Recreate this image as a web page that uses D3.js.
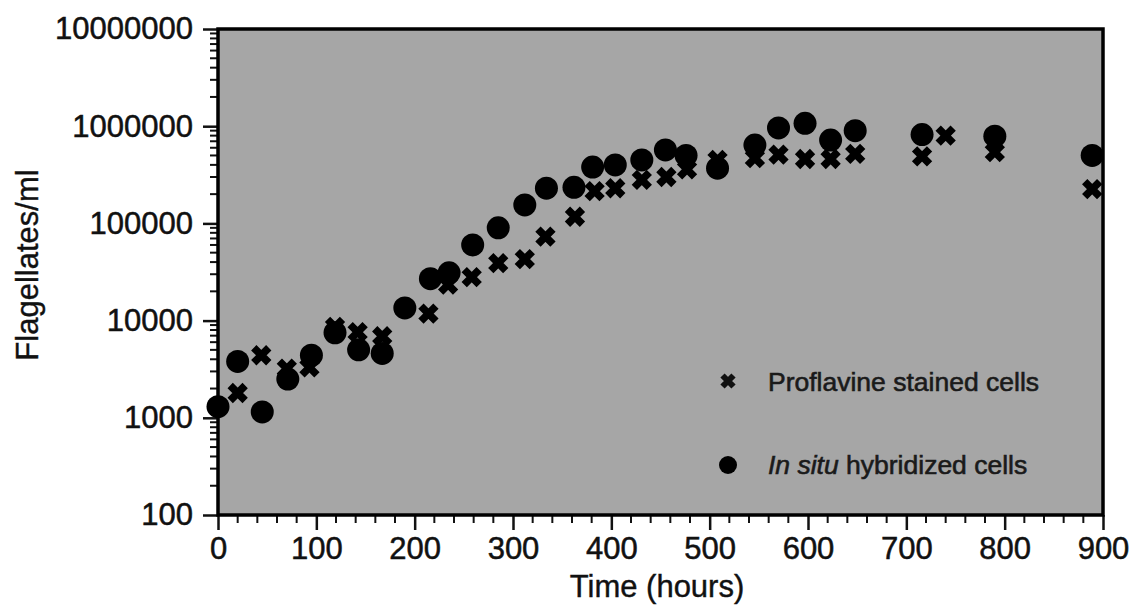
<!DOCTYPE html>
<html>
<head>
<meta charset="utf-8">
<script src="https://cdnjs.cloudflare.com/ajax/libs/d3/7.8.5/d3.min.js"></script>
<style>
	body { margin: 0; background: #fff; }
	text { font-family: 'Liberation Sans', Arial, Helvetica, sans-serif; }
</style>
</head>
<body>
<div id="chart_div"></div>
<script>
// values
var proflavine_hours = [20, 44, 70, 93, 119, 142, 167, 214, 234, 258, 285, 312, 333, 363, 383, 404, 431, 456, 477, 508, 546, 570, 597, 623, 648, 716, 740, 790, 889];
var proflavine_cells = [1800, 4400, 3200, 3300, 8600, 7600, 6900, 11800, 23500, 28000, 39000, 43000, 73000, 117000, 215000, 230000, 280000, 300000, 360000, 450000, 470000, 510000, 460000, 460000, 520000, 490000, 800000, 540000, 225000];

var insitu_hours = [0, 20, 45, 71, 95, 119, 143, 167, 190, 216, 235, 259, 285, 312, 334, 362, 381, 404, 431, 455, 476, 508, 546, 570, 597, 623, 648, 716, 790, 889];
var insitu_cells = [1300, 3800, 1150, 2500, 4400, 7500, 5000, 4600, 13500, 27000, 31000, 60000, 90000, 155000, 230000, 235000, 380000, 400000, 450000, 570000, 500000, 370000, 640000, 960000, 1070000, 720000, 900000, 820000, 790000, 500000];

var x_ticks = [0, 100, 200, 300, 400, 500, 600, 700, 800, 900];
var y_ticks = [100, 1000, 10000, 100000, 1000000, 10000000];

var width = 1131;
var height = 605;
var margin = { left: 218, right: 28, top: 29, bottom: 90 };

var svg = d3
	.select('#chart_div')
	.append('svg')
	.attr('width', width)
	.attr('height', height);

var x_scale = d3
	.scaleLinear()
	.domain([0, 900])
	.range([margin.left, width - margin.right]);
var y_scale = d3
	.scaleLog()
	.domain([100, 10000000])
	.range([height - margin.bottom, margin.top]);

var plot_w = x_scale(900) - x_scale(0);
var plot_h = y_scale(100) - y_scale(10000000);

// grey plot area
svg.append('rect')
	.attr('x', x_scale(0))
	.attr('y', y_scale(10000000))
	.attr('width', plot_w)
	.attr('height', plot_h)
	.attr('fill', '#a6a6a6');

// minor ticks
var minor_x = d3.range(0, 901, 20).filter((d) => d % 100 !== 0);
svg.append('g')
	.selectAll('line')
	.data(minor_x)
	.enter()
	.append('line')
	.attr('x1', (d) => x_scale(d))
	.attr('x2', (d) => x_scale(d))
	.attr('y1', y_scale(100))
	.attr('y2', y_scale(100) + 8)
	.attr('stroke', '#111')
	.attr('stroke-width', 2);

var minor_y = [];
for (var i = 0; i < y_ticks.length - 1; i++) {
	for (var k = 2; k < 10; k++) {
		minor_y.push(y_ticks[i] * k);
	}
}
svg.append('g')
	.selectAll('line')
	.data(minor_y)
	.enter()
	.append('line')
	.attr('x1', x_scale(0) - 8)
	.attr('x2', x_scale(0))
	.attr('y1', (d) => y_scale(d))
	.attr('y2', (d) => y_scale(d))
	.attr('stroke', '#111')
	.attr('stroke-width', 2);

// major ticks + labels
var style_labels = function (g) {
	g.selectAll('text')
		.attr('font-size', 31)
		.attr('fill', '#111')
		.attr('stroke', '#111')
		.attr('stroke-width', 0.5)
		.attr('font-family', "'Liberation Sans', Arial, sans-serif");
};

svg.append('g')
	.attr('transform', 'translate(0,' + y_scale(100) + ')')
	.call(d3.axisBottom(x_scale).tickValues(x_ticks).tickSize(15).tickPadding(7).tickSizeOuter(0))
	.call((g) => g.select('.domain').remove())
	.call((g) => g.selectAll('line').attr('stroke', '#111').attr('stroke-width', 2.5))
	.call(style_labels);

svg.append('g')
	.attr('transform', 'translate(' + x_scale(0) + ',0)')
	.call(d3.axisLeft(y_scale).tickValues(y_ticks).tickFormat(d3.format('d')).tickSize(15).tickPadding(10).tickSizeOuter(0))
	.call((g) => g.select('.domain').remove())
	.call((g) => g.selectAll('line').attr('stroke', '#111').attr('stroke-width', 2.5))
	.call(style_labels);

// frame
svg.append('rect')
	.attr('x', x_scale(0))
	.attr('y', y_scale(10000000))
	.attr('width', plot_w)
	.attr('height', plot_h)
	.attr('fill', 'none')
	.attr('stroke', '#000')
	.attr('stroke-width', 3.5);

// axis titles
svg.append('text')
	.attr('x', 657)
	.attr('y', 597)
	.attr('text-anchor', 'middle')
	.attr('font-size', 31)
	.attr('fill', '#111')
	.attr('stroke', '#111')
	.attr('stroke-width', 0.4)
	.text('Time (hours)');

svg.append('text')
	.attr('transform', 'translate(38,' + 265 + ') rotate(-90)')
	.attr('text-anchor', 'middle')
	.attr('font-size', 31)
	.attr('fill', '#111')
	.attr('stroke', '#111')
	.attr('stroke-width', 0.4)
	.text('Flagellates/ml');

// markers
var cross_path = function (s) {
	return 'M' + -s + ',' + -s + 'L' + s + ',' + s + 'M' + -s + ',' + s + 'L' + s + ',' + -s;
};

var proflavine_data = proflavine_hours.map((d, i) => ({ x: d, y: proflavine_cells[i] }));
var insitu_data = insitu_hours.map((d, i) => ({ x: d, y: insitu_cells[i] }));

svg.append('g')
	.selectAll('path')
	.data(proflavine_data)
	.enter()
	.append('path')
	.attr('d', cross_path(7.5))
	.attr('transform', (d) => 'translate(' + x_scale(d.x) + ',' + y_scale(d.y) + ')')
	.attr('stroke', '#000')
	.attr('stroke-width', 7.5);

svg.append('g')
	.selectAll('circle')
	.data(insitu_data)
	.enter()
	.append('circle')
	.attr('cx', (d) => x_scale(d.x))
	.attr('cy', (d) => y_scale(d.y))
	.attr('r', 11.5)
	.attr('fill', '#000');

// legend
var legend = svg.append('g');
legend.append('path')
	.attr('d', cross_path(5.5))
	.attr('transform', 'translate(728,381)')
	.attr('stroke', '#111')
	.attr('stroke-width', 6);
legend.append('circle')
	.attr('cx', 728)
	.attr('cy', 465)
	.attr('r', 9)
	.attr('fill', '#000');
legend.append('text')
	.attr('x', 768)
	.attr('y', 391)
	.attr('font-size', 26.5)
	.attr('fill', '#1a1a1a')
	.attr('stroke', '#1a1a1a')
	.attr('stroke-width', 0.6)
	.text('Proflavine stained cells');
var lt = legend.append('text')
	.attr('x', 768)
	.attr('y', 474)
	.attr('font-size', 26.5)
	.attr('fill', '#1a1a1a')
	.attr('stroke', '#1a1a1a')
	.attr('stroke-width', 0.6);
lt.append('tspan').attr('font-style', 'italic').text('In situ');
lt.append('tspan').text(' hybridized cells');
</script>
</body>
</html>
